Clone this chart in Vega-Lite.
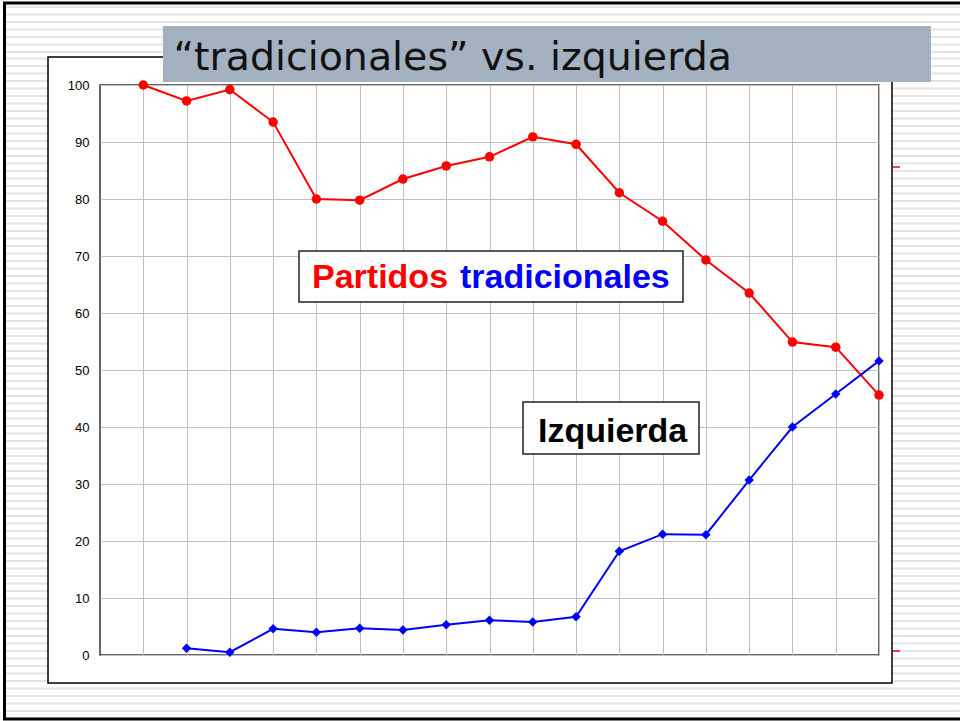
{
  "$schema": "https://vega.github.io/schema/vega-lite/v6.json",
  "autosize": {"type": "none"},
  "width": 779,
  "height": 570,
  "padding": {"left": 100, "top": 85, "right": 81, "bottom": 66},
  "background": "white",
  "config": {"view": {"stroke": "#333333", "strokeWidth": 1.5}},
  "datasets": {
    "series": [
      {"i": 1, "serie": "Partidos tradicionales", "v": 100},
      {"i": 2, "serie": "Partidos tradicionales", "v": 97.2},
      {"i": 3, "serie": "Partidos tradicionales", "v": 99.2},
      {"i": 4, "serie": "Partidos tradicionales", "v": 93.5},
      {"i": 5, "serie": "Partidos tradicionales", "v": 80.0},
      {"i": 6, "serie": "Partidos tradicionales", "v": 79.8},
      {"i": 7, "serie": "Partidos tradicionales", "v": 83.5},
      {"i": 8, "serie": "Partidos tradicionales", "v": 85.8},
      {"i": 9, "serie": "Partidos tradicionales", "v": 87.4},
      {"i": 10, "serie": "Partidos tradicionales", "v": 90.9},
      {"i": 11, "serie": "Partidos tradicionales", "v": 89.6},
      {"i": 12, "serie": "Partidos tradicionales", "v": 81.1},
      {"i": 13, "serie": "Partidos tradicionales", "v": 76.1},
      {"i": 14, "serie": "Partidos tradicionales", "v": 69.3},
      {"i": 15, "serie": "Partidos tradicionales", "v": 63.5},
      {"i": 16, "serie": "Partidos tradicionales", "v": 54.9},
      {"i": 17, "serie": "Partidos tradicionales", "v": 54.0},
      {"i": 18, "serie": "Partidos tradicionales", "v": 45.6},
      {"i": 2, "serie": "Izquierda", "v": 1.2},
      {"i": 3, "serie": "Izquierda", "v": 0.5},
      {"i": 4, "serie": "Izquierda", "v": 4.6},
      {"i": 5, "serie": "Izquierda", "v": 4.0},
      {"i": 6, "serie": "Izquierda", "v": 4.7},
      {"i": 7, "serie": "Izquierda", "v": 4.4},
      {"i": 8, "serie": "Izquierda", "v": 5.3},
      {"i": 9, "serie": "Izquierda", "v": 6.1},
      {"i": 10, "serie": "Izquierda", "v": 5.8},
      {"i": 11, "serie": "Izquierda", "v": 6.7},
      {"i": 12, "serie": "Izquierda", "v": 18.2},
      {"i": 13, "serie": "Izquierda", "v": 21.2},
      {"i": 14, "serie": "Izquierda", "v": 21.1},
      {"i": 15, "serie": "Izquierda", "v": 30.7},
      {"i": 16, "serie": "Izquierda", "v": 40.0},
      {"i": 17, "serie": "Izquierda", "v": 45.8},
      {"i": 18, "serie": "Izquierda", "v": 51.6}
    ],
    "stripesTB": [
      {"x": 8.8497, "y": 113.86, "y2": 104.912},
      {"x": 8.8497, "y": -5.702, "y2": -11.579}
    ],
    "stripesL": [{"x": -1.6868, "y": 104.825, "y2": -4.912}],
    "stripesR": [{"x": 19.086, "y": 104.825, "y2": -4.912}],
    "slide": [{"x": -2.2066, "x2": 20.796, "y": 114.386, "y2": -11.228}],
    "chartbox": [{"x": -1.2015, "x2": 18.3, "y": 104.912, "y2": -4.912}],
    "titlebox": [{"x": 1.4557, "x2": 19.2015, "y": 110.35, "y2": 100.526}],
    "titletext": [{"x": 1.70, "y": 102.63, "t": "“tradicionales” vs. izquierda"}],
    "redticks": [
      {"x": 18.323, "x2": 18.485, "y": 85.61},
      {"x": 18.323, "x2": 18.485, "y": 0.7}
    ],
    "boxes": [
      {"x": 4.598, "x2": 13.471, "y": 70.877, "y2": 61.93},
      {"x": 9.774, "x2": 13.841, "y": 44.386, "y2": 35.263}
    ],
    "redlabel": [{"x": 4.899, "y": 64.386, "t": "Partidos"}],
    "bluelabel": [{"x": 8.318, "y": 64.386, "t": "tradicionales"}],
    "blacklabel": [{"x": 10.121, "y": 37.368, "t": "Izquierda"}]
  },
  "layer": [
    {
      "data": {"name": "stripesTB"},
      "mark": {"type": "rule", "color": "#E4E4E4", "strokeWidth": 954, "strokeDash": [2, 5.5]},
      "encoding": {
        "x": {"field": "x", "type": "quantitative", "scale": {"domain": [0, 18], "nice": false, "zero": false}, "axis": {"values": [1,2,3,4,5,6,7,8,9,10,11,12,13,14,15,16,17,18], "labels": false, "ticks": false, "domain": false, "grid": true, "gridColor": "#C0C0C0", "gridWidth": 1, "title": null}},
        "y": {"field": "y", "type": "quantitative", "scale": {"domain": [0, 100], "nice": false, "zero": false}, "axis": {"values": [0,10,20,30,40,50,60,70,80,90,100], "ticks": false, "domain": false, "grid": true, "gridColor": "#C0C0C0", "gridWidth": 1, "labelPadding": 11, "labelFont": "Liberation Sans", "labelFontSize": 13, "labelColor": "#000000", "title": null}},
        "y2": {"field": "y2"}
      }
    },
    {
      "data": {"name": "stripesL"},
      "mark": {"type": "rule", "color": "#E4E4E4", "strokeWidth": 42, "strokeDash": [2, 5.5]},
      "encoding": {
        "x": {"field": "x", "type": "quantitative"},
        "y": {"field": "y", "type": "quantitative"},
        "y2": {"field": "y2"}
      }
    },
    {
      "data": {"name": "stripesR"},
      "mark": {"type": "rule", "color": "#E4E4E4", "strokeWidth": 68, "strokeDash": [2, 5.5]},
      "encoding": {
        "x": {"field": "x", "type": "quantitative"},
        "y": {"field": "y", "type": "quantitative"},
        "y2": {"field": "y2"}
      }
    },
    {
      "data": {"name": "slide"},
      "mark": {"type": "rect", "fill": null, "fillOpacity": 0, "stroke": "#000000", "strokeWidth": 3},
      "encoding": {
        "x": {"field": "x", "type": "quantitative"},
        "x2": {"field": "x2"},
        "y": {"field": "y", "type": "quantitative"},
        "y2": {"field": "y2"}
      }
    },
    {
      "data": {"name": "chartbox"},
      "mark": {"type": "rect", "fill": null, "fillOpacity": 0, "stroke": "#000000", "strokeWidth": 1.5},
      "encoding": {
        "x": {"field": "x", "type": "quantitative"},
        "x2": {"field": "x2"},
        "y": {"field": "y", "type": "quantitative"},
        "y2": {"field": "y2"}
      }
    },
    {
      "data": {"name": "titlebox"},
      "mark": {"type": "rect", "fill": "#A3B1C1", "strokeWidth": 0},
      "encoding": {
        "x": {"field": "x", "type": "quantitative"},
        "x2": {"field": "x2"},
        "y": {"field": "y", "type": "quantitative"},
        "y2": {"field": "y2"}
      }
    },
    {
      "data": {"name": "titletext"},
      "mark": {"type": "text", "font": "DejaVu Sans", "fontSize": 39.5, "color": "#111111", "align": "left", "baseline": "alphabetic"},
      "encoding": {
        "x": {"field": "x", "type": "quantitative"},
        "y": {"field": "y", "type": "quantitative"},
        "text": {"field": "t"}
      }
    },
    {
      "data": {"name": "redticks"},
      "mark": {"type": "rule", "color": "#FF0000", "strokeWidth": 1.5},
      "encoding": {
        "x": {"field": "x", "type": "quantitative"},
        "x2": {"field": "x2"},
        "y": {"field": "y", "type": "quantitative"}
      }
    },
    {
      "data": {"name": "series"},
      "mark": {"type": "line", "strokeWidth": 2},
      "encoding": {
        "x": {"field": "i", "type": "quantitative"},
        "y": {"field": "v", "type": "quantitative"},
        "color": {"field": "serie", "type": "nominal", "scale": {"domain": ["Partidos tradicionales", "Izquierda"], "range": ["#FF0000", "#0000FF"]}, "legend": null}
      }
    },
    {
      "data": {"name": "series"},
      "mark": {"type": "point", "filled": true, "opacity": 1, "size": 90},
      "encoding": {
        "x": {"field": "i", "type": "quantitative"},
        "y": {"field": "v", "type": "quantitative"},
        "color": {"field": "serie", "type": "nominal", "legend": null},
        "shape": {"field": "serie", "type": "nominal", "scale": {"domain": ["Partidos tradicionales", "Izquierda"], "range": ["circle", "diamond"]}, "legend": null}
      }
    },
    {
      "data": {"name": "boxes"},
      "mark": {"type": "rect", "fill": "#FFFFFF", "stroke": "#222222", "strokeWidth": 1.5},
      "encoding": {
        "x": {"field": "x", "type": "quantitative"},
        "x2": {"field": "x2"},
        "y": {"field": "y", "type": "quantitative"},
        "y2": {"field": "y2"}
      }
    },
    {
      "data": {"name": "redlabel"},
      "mark": {"type": "text", "font": "Liberation Sans", "fontWeight": "bold", "fontSize": 34, "color": "#FF0000", "align": "left", "baseline": "alphabetic"},
      "encoding": {
        "x": {"field": "x", "type": "quantitative"},
        "y": {"field": "y", "type": "quantitative"},
        "text": {"field": "t"}
      }
    },
    {
      "data": {"name": "bluelabel"},
      "mark": {"type": "text", "font": "Liberation Sans", "fontWeight": "bold", "fontSize": 34, "color": "#0000FF", "align": "left", "baseline": "alphabetic"},
      "encoding": {
        "x": {"field": "x", "type": "quantitative"},
        "y": {"field": "y", "type": "quantitative"},
        "text": {"field": "t"}
      }
    },
    {
      "data": {"name": "blacklabel"},
      "mark": {"type": "text", "font": "Liberation Sans", "fontWeight": "bold", "fontSize": 34, "color": "#000000", "align": "left", "baseline": "alphabetic"},
      "encoding": {
        "x": {"field": "x", "type": "quantitative"},
        "y": {"field": "y", "type": "quantitative"},
        "text": {"field": "t"}
      }
    }
  ]
}
